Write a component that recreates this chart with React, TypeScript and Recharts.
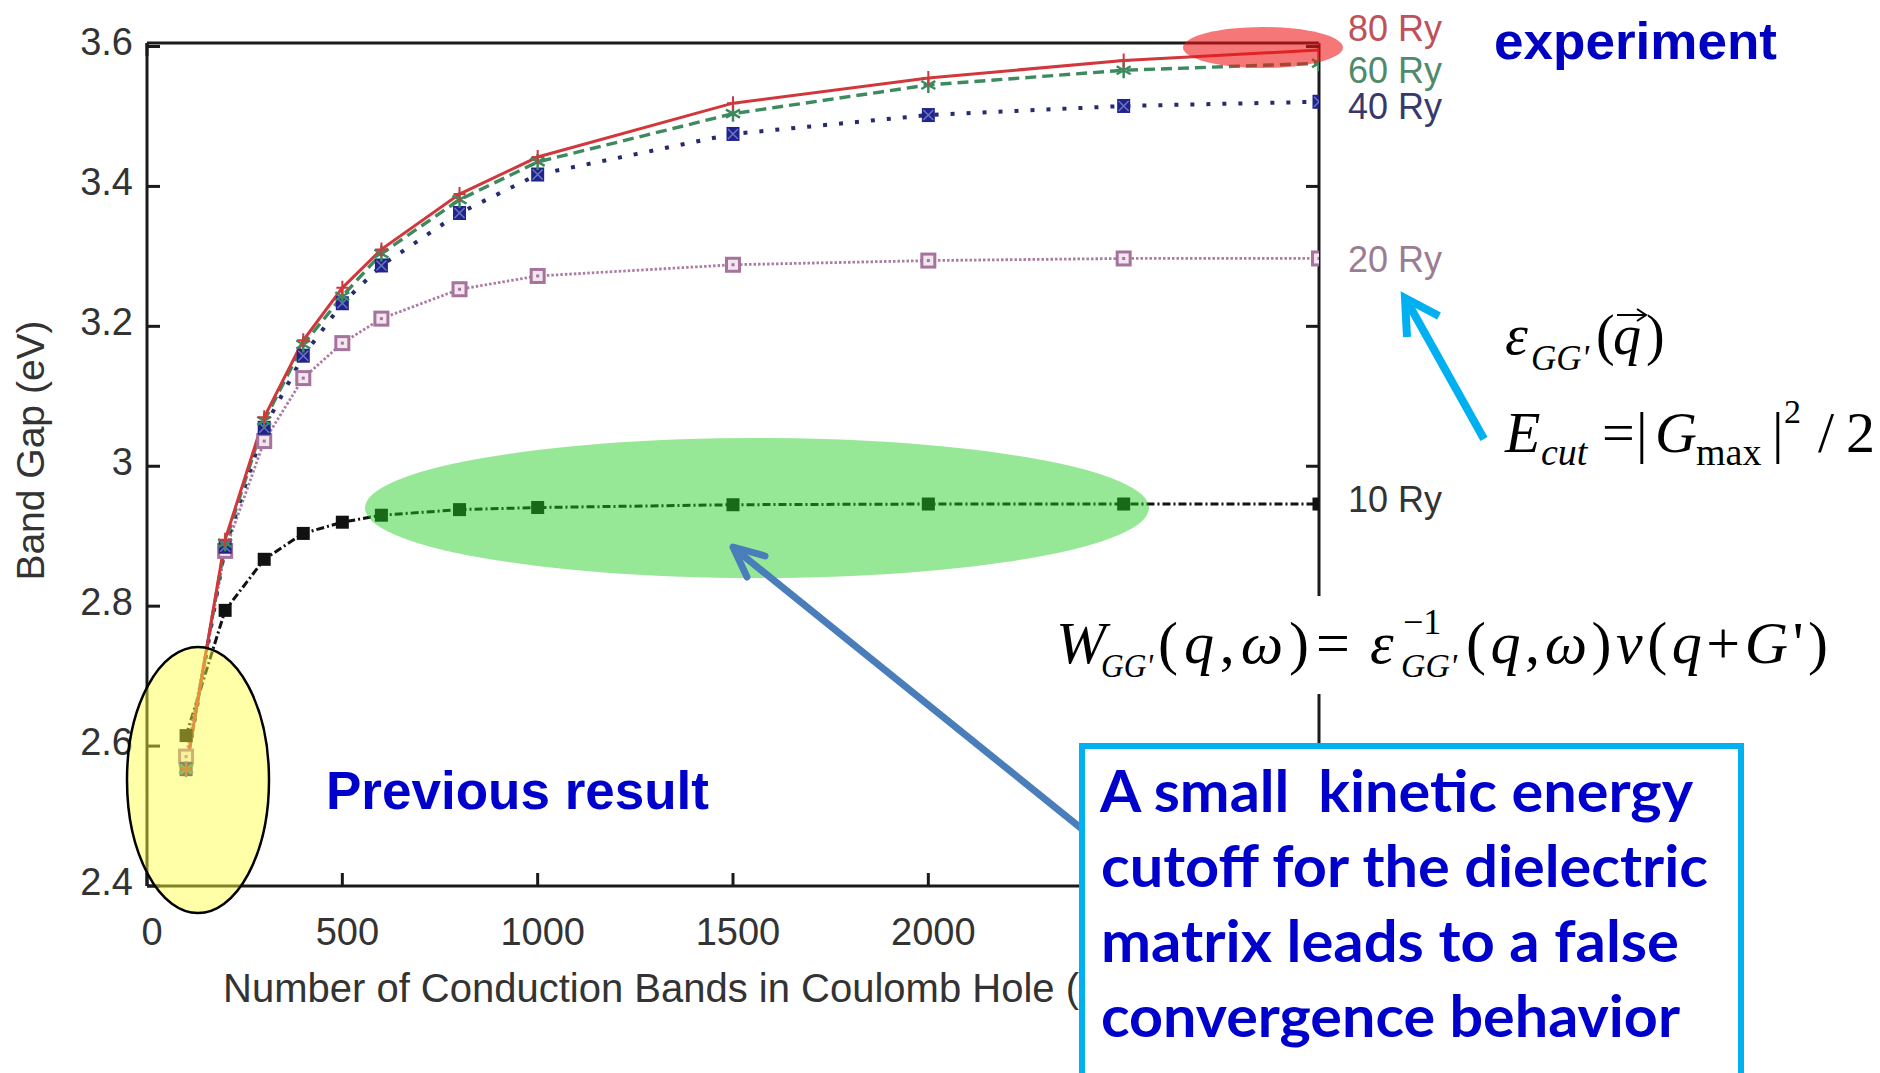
import React from 'react';
import { LineChart, Line, XAxis, YAxis, LabelList } from 'recharts';

// ---- data ----
const bands = [100, 200, 300, 400, 500, 600, 800, 1000, 1500, 2000, 2500, 3000];
const gap10 = [2.615, 2.794, 2.867, 2.904, 2.92, 2.93, 2.938, 2.941, 2.945, 2.946, 2.946, 2.946];
const gap20 = [2.585, 2.879, 3.036, 3.126, 3.176, 3.211, 3.253, 3.272, 3.288, 3.294, 3.297, 3.297];
const gap40 = [2.567, 2.885, 3.055, 3.158, 3.233, 3.287, 3.362, 3.417, 3.475, 3.502, 3.515, 3.521];
const gap60 = [2.567, 2.89, 3.065, 3.174, 3.243, 3.304, 3.381, 3.435, 3.504, 3.545, 3.566, 3.576];
const gap80 = [2.567, 2.895, 3.07, 3.18, 3.255, 3.31, 3.389, 3.442, 3.519, 3.555, 3.58, 3.595];
const seriesNames = ['10 Ry', '20 Ry', '40 Ry', '60 Ry', '80 Ry'];
const xTicks = [0, 500, 1000, 1500, 2000, 2500, 3000];
const yTicks = [2.4, 2.6, 2.8, 3, 3.2, 3.4, 3.6];
const xTitle = 'Number of Conduction Bands in Coulomb Hole (CH)';
const yTitle = 'Band Gap (eV)';
const boxLines = ['A small  kinetic energy', 'cutoff for the dielectric', 'matrix leads to a false', 'convergence behavior'];

const data = bands.map((b, i) => ({
  bands: b,
  g10: gap10[i],
  g20: gap20[i],
  g40: gap40[i],
  g60: gap60[i],
  g80: gap80[i],
}));

// ---- layout ----
const W = 1880;
const H = 1073;
const M = { top: 42, right: 560, bottom: 127, left: 47 };
const YAXIS_W = 100;
const XAXIS_H = 60;
const PLOT_LEFT = M.left + YAXIS_W;
const PLOT_TOP = M.top + 1;
const PLOT_RIGHT = W - M.right - 1;
const PLOT_BOTTOM = H - M.bottom - XAXIS_H;
const TICK = 13;
const AXIS = '#1a1a1a';
const SANS = '"Liberation Sans", Arial, Helvetica, sans-serif';
const SERIF = '"Liberation Serif", "Times New Roman", serif';
const TEXT = '#333';
const BOX = { x: 1082, y: 746, w: 659, h: 400 };

const LeftTick = (p: any) => (
  <g>
    <line x1={PLOT_LEFT} x2={PLOT_LEFT + TICK} y1={p.y} y2={p.y} stroke={AXIS} strokeWidth={3} />
    <text x={PLOT_LEFT - 14} y={p.y + 9} textAnchor="end" fontSize={38} fontFamily={SANS} fill={TEXT}>
      {String(p.payload.value)}
    </text>
  </g>
);
// labels lying under the annotation box are hidden by it in the reference
const BottomTick = (p: any) => (
  <g>
    <line x1={p.x} x2={p.x} y1={PLOT_BOTTOM} y2={PLOT_BOTTOM - TICK} stroke={AXIS} strokeWidth={3} />
    {p.x + 30 < BOX.x ? (
      <text x={p.x + 5} y={PLOT_BOTTOM + 59} textAnchor="middle" fontSize={38} fontFamily={SANS} fill={TEXT}>
        {String(p.payload.value)}
      </text>
    ) : null}
  </g>
);
const TopTick = (p: any) => (
  <line x1={p.x} x2={p.x} y1={PLOT_TOP} y2={PLOT_TOP + TICK} stroke={AXIS} strokeWidth={3} />
);
const RightTick = (p: any) => (
  <line x1={PLOT_RIGHT - TICK} x2={PLOT_RIGHT} y1={p.y} y2={p.y} stroke={AXIS} strokeWidth={3} />
);

// ---- markers ----
const FilledSquare = ({ cx, cy, color }: any) => (
  <rect x={cx - 6.5} y={cy - 6.5} width={13} height={13} fill={color} />
);
const OpenSquare = ({ cx, cy, color }: any) => (
  <g>
    <rect x={cx - 6.5} y={cy - 6.5} width={13} height={13} fill="#f3e6ef" stroke={color} strokeWidth={3} />
    <rect x={cx - 1.5} y={cy - 1.5} width={3} height={3} fill={color} />
  </g>
);
const BoxX = ({ cx, cy, color }: any) => (
  <g>
    <rect x={cx - 6.5} y={cy - 7} width={13} height={14} fill={color} />
    <path d={`M${cx - 5},${cy - 5}L${cx + 5},${cy + 5}M${cx + 5},${cy - 5}L${cx - 5},${cy + 5}`} stroke="#6f74c0" strokeWidth={1.5} />
  </g>
);
const Star = ({ cx, cy, color }: any) => (
  <path
    d={`M${cx},${cy - 8}L${cx},${cy + 8}M${cx - 7},${cy - 4}L${cx + 7},${cy + 4}M${cx + 7},${cy - 4}L${cx - 7},${cy + 4}`}
    stroke={color}
    strokeWidth={2.5}
  />
);
const Plus = ({ cx, cy, color }: any) => (
  <path d={`M${cx - 6},${cy}L${cx + 6},${cy}M${cx},${cy - 7}L${cx},${cy + 7}`} stroke={color} strokeWidth={2} />
);

const series = [
  { key: 'g10', color: '#111111', label: '#333333', dash: '8 3 2 3', width: 3, marker: FilledSquare, mcolor: '#111', dy: 7.5 },
  { key: 'g20', color: '#ad7ca3', label: '#9a7c93', dash: '2.5 2', width: 2.8, marker: OpenSquare, mcolor: '#a5739b', dy: 14 },
  { key: 'g40', color: '#262a6e', label: '#38386a', dash: '4 12', width: 4, marker: BoxX, mcolor: '#1e248c', dy: 17.5 },
  { key: 'g60', color: '#3d8a5f', label: '#4f8a6c', dash: '11 6', width: 3.4, marker: Star, mcolor: '#3d8a5f', dy: 19.5 },
  { key: 'g80', color: '#d0383c', label: '#c0505a', dash: undefined, width: 3, marker: Plus, mcolor: '#d0383c', dy: -8.5 },
];

const makeEndLabel = (name: string, color: string, dy: number) => (p: any) => {
  if (p.index !== bands.length - 1) return null;
  return (
    <text x={p.x + 29} y={p.y + dy} fontSize={36} fontFamily={SANS} fill={color}>
      {name}
    </text>
  );
};

export default function App() {
  return (
    <div style={{ position: 'absolute', left: 0, top: 0, width: W, height: H, background: '#fff', overflow: 'hidden' }}>
      <LineChart width={W} height={H} data={data} margin={M}>
        <XAxis
          dataKey="bands"
          type="number"
          domain={[0, 3000]}
          ticks={xTicks}
          interval={0}
          height={XAXIS_H}
          allowDataOverflow
          axisLine={{ stroke: AXIS, strokeWidth: 3 }}
          tickLine={false}
          tick={BottomTick}
          label={() => (
            <text x={PLOT_LEFT + 76} y={PLOT_BOTTOM + 116} fontSize={40} fontFamily={SANS} fill={TEXT}>
              {xTitle}
            </text>
          )}
        />
        <XAxis
          xAxisId="top"
          orientation="top"
          type="number"
          domain={[0, 3000]}
          ticks={xTicks}
          interval={0}
          height={1}
          allowDataOverflow
          axisLine={{ stroke: AXIS, strokeWidth: 3 }}
          tickLine={false}
          tick={TopTick}
        />
        <YAxis
          type="number"
          domain={[2.4, 3.605]}
          ticks={yTicks}
          interval={0}
          width={YAXIS_W}
          allowDataOverflow
          axisLine={{ stroke: AXIS, strokeWidth: 3 }}
          tickLine={false}
          tick={LeftTick}
          label={() => (
            <text
              transform={`translate(${PLOT_LEFT - 103},${(PLOT_TOP + PLOT_BOTTOM) / 2 - 14}) rotate(-90)`}
              textAnchor="middle"
              fontSize={39}
              fontFamily={SANS}
              fill={TEXT}
            >
              {yTitle}
            </text>
          )}
        />
        <YAxis
          yAxisId="right"
          orientation="right"
          type="number"
          domain={[2.4, 3.605]}
          ticks={yTicks}
          interval={0}
          width={1}
          allowDataOverflow
          axisLine={{ stroke: AXIS, strokeWidth: 3 }}
          tickLine={false}
          tick={RightTick}
        />
        {series.map((s, si) => {
          const Marker = s.marker;
          return (
            <Line
              key={s.key}
              dataKey={s.key}
              type="linear"
              stroke={s.color}
              strokeWidth={s.width}
              strokeDasharray={s.dash}
              isAnimationActive={false}
              dot={(p: any) => <Marker key={`${s.key}-${p.index}`} cx={p.cx} cy={p.cy} color={s.mcolor} />}
              activeDot={false}
            >
              <LabelList dataKey={s.key} content={makeEndLabel(seriesNames[si], s.label, s.dy)} />
            </Line>
          );
        })}
      </LineChart>

      <svg width={W} height={H} style={{ position: 'absolute', left: 0, top: 0, pointerEvents: 'none' }}>
        {/* highlight ellipses */}
        <ellipse cx={757} cy={508} rx={392} ry={70} fill="rgb(32,206,32)" fillOpacity={0.47} />
        <ellipse cx={198} cy={780} rx={71} ry={133} fill="rgb(255,255,60)" fillOpacity={0.45} stroke="#000" strokeWidth={2.5} />
        <ellipse cx={1263} cy={47.5} rx={80} ry={20.5} fill="rgb(240,20,20)" fillOpacity={0.58} />

        {/* annotations */}
        <text x={1494} y={59} fontSize={52} fontWeight="bold" fontFamily={SANS} fill="#0000c0" textLength={283} lengthAdjust="spacingAndGlyphs">
          experiment
        </text>
        <text x={326} y={809} fontSize={53} fontWeight="bold" fontFamily={SANS} fill="#0000cc" textLength={383} lengthAdjust="spacingAndGlyphs">
          Previous result
        </text>

        {/* epsilon(q) */}
        <g fontFamily={SERIF} fill="#000">
          <text x={1505} y={354} fontSize={58} fontStyle="italic">ε</text>
          <text x={1531} y={370} fontSize={36} fontStyle="italic" textLength={58} lengthAdjust="spacingAndGlyphs">GG'</text>
          <text x={1596} y={354} fontSize={56}>(</text>
          <text x={1613} y={354} fontSize={56} fontStyle="italic">q</text>
          <text x={1646} y={354} fontSize={56}>)</text>
          <path d="M1617,315L1645,315M1637,309L1646,315L1637,321" stroke="#000" strokeWidth={2} fill="none" />

          {/* E_cut */}
          <text x={1505} y={452} fontSize={58} fontStyle="italic">E</text>
          <text x={1541} y={465} fontSize={38} fontStyle="italic">cut</text>
          <text x={1602} y={452} fontSize={58}>=</text>
          <text x={1636} y={452} fontSize={58}>|</text>
          <text x={1655} y={452} fontSize={58} fontStyle="italic">G</text>
          <text x={1696} y={465} fontSize={38}>max</text>
          <text x={1772} y={452} fontSize={58}>|</text>
          <text x={1784} y={423} fontSize={34}>2</text>
          <text x={1818} y={452} fontSize={58}>/</text>
          <text x={1846} y={452} fontSize={58}>2</text>
        </g>

        {/* W formula on white */}
        <rect x={1040} y={596} width={810} height={98} fill="#fff" />
        <g fontFamily={SERIF} fill="#000">
          <text x={1056} y={663} fontSize={60} fontStyle="italic">W</text>
          <text x={1101} y={677} fontSize={34} fontStyle="italic" textLength={52} lengthAdjust="spacingAndGlyphs">GG'</text>
          <text x={1158} y={663} fontSize={60} textLength={151} lengthAdjust="spacing">
            (<tspan fontStyle="italic">q</tspan>,<tspan fontStyle="italic">ω</tspan>)
          </text>
          <text x={1316} y={663} fontSize={60}>=</text>
          <text x={1370} y={663} fontSize={60} fontStyle="italic">ε</text>
          <text x={1403} y={634} fontSize={36}>−1</text>
          <text x={1401} y={677} fontSize={34} fontStyle="italic" textLength={56} lengthAdjust="spacingAndGlyphs">GG'</text>
          <text x={1466} y={663} fontSize={60} textLength={362} lengthAdjust="spacing">
            (<tspan fontStyle="italic">q</tspan>,<tspan fontStyle="italic">ω</tspan>)<tspan fontStyle="italic">v</tspan>(<tspan fontStyle="italic">q</tspan>+<tspan fontStyle="italic">G</tspan>')
          </text>
        </g>

        {/* cyan arrow */}
        <g stroke="#00b0f0" strokeWidth={8} fill="none" strokeLinecap="butt" strokeLinejoin="miter">
          <line x1={1484} y1={439} x2={1408} y2={303} />
          <polyline points="1407,337 1405,298 1439,316" />
        </g>

        {/* blue arrow */}
        <g stroke="#4a7ebb" strokeWidth={7} fill="none" strokeLinecap="round" strokeLinejoin="round">
          <line x1={1082} y1={829} x2={735} y2={549} />
          <polyline points="765,556 733,547 747,577" />
        </g>

        {/* text box */}
        <rect x={BOX.x} y={BOX.y} width={BOX.w} height={BOX.h} fill="#fff" stroke="#00b0f0" strokeWidth={6} />
        <g fontFamily='Lato, "Open Sans", sans-serif' fontWeight="bold" fontSize={57} fill="#0000cc">
          <text x={1100} y={812} textLength={593} lengthAdjust="spacingAndGlyphs" style={{ whiteSpace: 'pre' }}>{boxLines[0]}</text>
          <text x={1101} y={887} textLength={607} lengthAdjust="spacingAndGlyphs">{boxLines[1]}</text>
          <text x={1101} y={962} textLength={578} lengthAdjust="spacingAndGlyphs">{boxLines[2]}</text>
          <text x={1101} y={1037} textLength={579} lengthAdjust="spacingAndGlyphs">{boxLines[3]}</text>
        </g>
      </svg>
    </div>
  );
}
